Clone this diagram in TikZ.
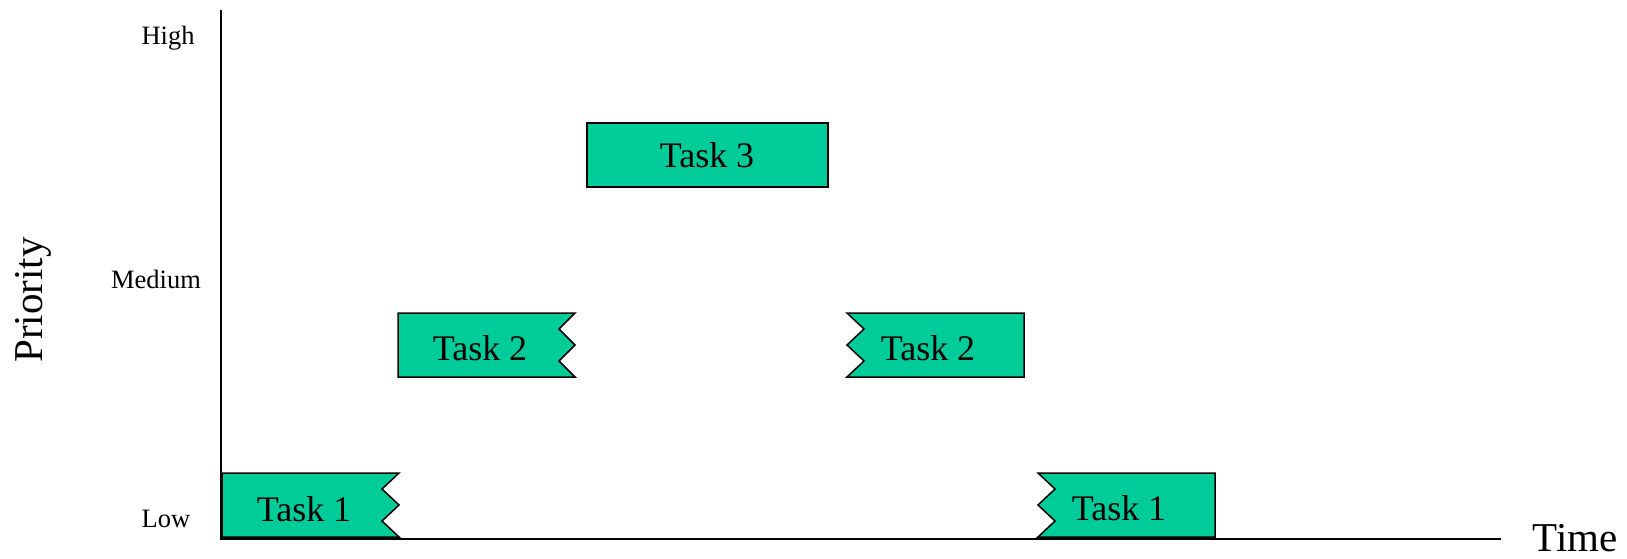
\documentclass[tikz,border=0pt]{standalone}
\usepackage{fontspec}
\setmainfont{Liberation Serif}
\definecolor{taskgreen}{RGB}{0,204,153}
\begin{document}
\begin{tikzpicture}[x=1pt,y=-1pt,
  axisline/.style={line width=2pt,black},
  taskshape/.style={fill=taskgreen,draw=black,line width=1.5pt,line join=miter},
  tasktext/.style={font=\fontsize{36}{40}\selectfont,anchor=base,inner sep=0pt},
  levellabel/.style={font=\fontsize{26.5}{30}\selectfont,anchor=base,inner sep=0pt},
  axislabel/.style={font=\fontsize{41}{44}\selectfont,inner sep=0pt}]
\useasboundingbox (0,0) rectangle (1627,559);

% axes
\coordinate (origin) at (221,539);
\coordinate (ytop) at (221,10);
\coordinate (xend) at (1501,539);
\draw[axisline] (ytop) -- (origin) -- (xend);

% priority levels
\node[levellabel] (high) at (168,45) {High};
\node[levellabel] (medium) at (156,288) {Medium};
\node[levellabel] (low) at (166,527) {Low};
\node[axislabel,rotate=90] (prio) at (33,300) {Priority};
\node[axislabel,anchor=base] (time) at (1575,551) {Time};

% Task 1, preempted (notch on right)
\draw[taskshape] (222,473) -- (399,473) -- (382,489) -- (399,505) -- (382,521) -- (399,537) -- (222,537) -- cycle;
\node[tasktext] (t1a) at (304,521) {Task 1};

% Task 2, preempted
\draw[taskshape] (398,313) -- (575,313) -- (559,329) -- (575,345) -- (559,361) -- (575,377) -- (398,377) -- cycle;
\node[tasktext] (t2a) at (480,360) {Task 2};

% Task 3, runs to completion
\draw[taskshape] (587,123) rectangle (828,187);
\node[tasktext] (t3) at (707,167) {Task 3};

% Task 2, resumed (notch on left)
\draw[taskshape] (847,313) -- (1024,313) -- (1024,377) -- (847,377) -- (864,361) -- (847,345) -- (864,329) -- cycle;
\node[tasktext] (t2b) at (928,360) {Task 2};

% Task 1, resumed
\draw[taskshape] (1038,473) -- (1215,473) -- (1215,537) -- (1038,537) -- (1055,521) -- (1038,505) -- (1055,489) -- cycle;
\node[tasktext] (t1b) at (1119,520) {Task 1};
\end{tikzpicture}
\end{document}
